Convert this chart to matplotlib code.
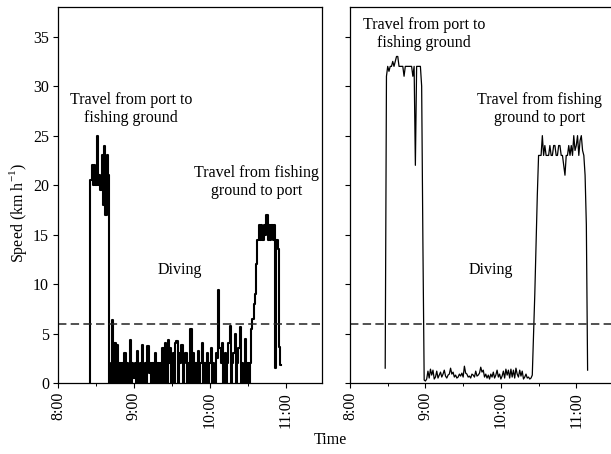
import numpy as np
import matplotlib.pyplot as plt

plt.rcParams['font.family'] = ['Liberation Serif', 'DejaVu Serif']
plt.rcParams['mathtext.fontset'] = 'custom'
plt.rcParams['mathtext.rm'] = 'Liberation Serif'

# speed logs, one sample per minute; times are minutes after 8:00
left_start = 25
left_speed = [
    0.0, 20.5,
    # outbound
    22, 20, 22, 20, 25, 20, 21, 19.5, 23, 18, 24, 17, 23, 21,
    # diving
    0, 2, 6.4, 0, 4, 0, 3.8, 0, 2, 0,
    2, 0, 3, 0, 2, 0, 4.3, 0, 2, 0.5,
    2, 0, 3.2, 0, 2, 0, 3.8, 0, 2, 0,
    3.7, 1, 2, 0, 2, 0, 3, 0, 2, 0,
    2, 0, 3.5, 0, 4, 0, 4.3, 2, 3.5, 0,
    3, 0, 4, 4.2, 0, 3, 2, 3.8, 0, 2,
    3, 0, 2, 0, 5.5, 0, 3, 0, 2, 0,
    3.2, 0, 2, 4, 0, 2, 0, 3, 0, 2,
    3.5, 0, 2, 0, 3, 2.5, 9.4, 3.5, 2, 4,
    0, 3, 0, 2, 4, 5.8, 0, 2, 3, 5,
    0, 2, 3.5, 5.7, 0, 2, 0, 4.4, 0, 2,
    0, 2,
    # return
    5.5, 6.5, 8, 9, 12, 14.5, 16, 14.5, 16, 14.5,
    16, 15, 17, 14.5, 16, 14.5, 16, 14.5, 16, 1.5,
    14.5, 13.5, 3.6, 1.8,
]

right_start = 28
right_speed = [
    1.5,
    # outbound
    31, 32, 31.5, 32, 32, 32.5, 32, 32.5, 33, 33,
    32, 32, 32, 32, 31, 32, 32, 32, 32, 32,
    32, 31, 32, 22, 32, 32, 32, 32, 30, 14,
    # diving
    0.3, 0.2, 0.4, 1.2, 0.5, 1.4, 0.8, 1.3, 0.4, 0.6,
    1.2, 0.5, 0.8, 1.1, 0.6, 0.9, 1.3, 0.7, 0.5, 0.8,
    0.9, 1.5, 0.9, 1.1, 0.6, 0.8, 0.5, 0.6, 0.9, 0.7,
    1.0, 0.6, 1.7, 1.0, 0.9, 0.6, 0.7, 0.5, 0.9, 0.8,
    0.6, 1.2, 0.7, 0.8, 1.0, 1.6, 1.1, 1.3, 0.6, 0.9,
    0.5, 0.8, 0.4, 0.9, 0.6, 1.1, 0.5, 0.8, 1.3, 0.6,
    0.9, 0.4, 0.7, 1.2, 0.5, 1.4, 0.8, 1.3, 0.5, 1.4,
    0.6, 1.3, 0.5, 1.5, 0.9, 0.6, 1.3, 0.7, 1.2, 0.4,
    0.6, 0.9, 0.5, 0.6, 0.4, 0.5, 0.8,
    # return
    5, 9, 14, 19, 23, 23, 23, 25, 23, 24,
    23, 23, 23, 24, 23, 23, 24, 24, 23, 23,
    24, 24, 23, 23, 22, 21, 23, 23, 24, 23,
    24, 23, 25, 23.5, 24, 25, 23, 24.5, 25, 23.5,
    23, 21, 16, 1.3,
]

threshold = 6
hour_ticks = [0, 60, 120, 180]
hour_labels = ['8:00', '9:00', '10:00', '11:00']
half_ticks = [30, 90, 150]

# left logger records coarse speed steps, right one is smoothed
panels = [
    dict(start=left_start, speed=left_speed, xmax=208.5, lw=1.5, ds='steps-mid',
         out_xy=(57.6, 27.7), back_xy=(157, 20.3), dive_xy=(96.3, 11.4)),
    dict(start=right_start, speed=right_speed, xmax=210, lw=0.9, ds='default',
         out_xy=(58.8, 35.3), back_xy=(151, 27.7), dive_xy=(112, 11.4)),
]

W, H = 611, 454
fig = plt.figure(figsize=(W / 100, H / 100), dpi=100)
ax_left = fig.add_axes([58 / W, 71 / H, 264 / W, 376 / H])
ax_right = fig.add_axes([350 / W, 71 / H, 264 / W, 376 / H])

for ax, p in zip([ax_left, ax_right], panels):
    t = p['start'] + np.arange(len(p['speed']))
    ax.plot(t, p['speed'], color='black', lw=p['lw'], drawstyle=p['ds'])
    ax.axhline(threshold, color='#222222', lw=1.1, ls=(0, (5.5, 2.8)))
    ax.set_xlim(0, p['xmax'])
    ax.set_ylim(0, 38)
    ax.set_xticks(hour_ticks)
    ax.set_xticklabels(hour_labels, rotation=90, fontsize=11.5)
    ax.set_xticks(half_ticks, minor=True)
    ax.set_yticks(range(0, 40, 5))
    ax.tick_params(axis='both', which='major', direction='out', length=3.5, width=0.8, pad=3)
    ax.tick_params(axis='x', which='minor', direction='out', length=2.5, width=0.7)
    ax.tick_params(axis='y', labelsize=11.5)
    for s in ax.spines.values():
        s.set_linewidth(0.9)
    ax.text(*p['out_xy'], 'Travel from port to\nfishing ground', ha='center', va='center',
            fontsize=11.5, linespacing=1.15)
    ax.text(*p['back_xy'], 'Travel from fishing\nground to port', ha='center', va='center',
            fontsize=11.5, linespacing=1.15)
    ax.text(*p['dive_xy'], 'Diving', ha='center', va='center', fontsize=11.5)

ax_right.tick_params(axis='y', labelleft=False)
ax_right.spines['right'].set_visible(False)

fig.text(18 / W, 1 - 213 / H, 'Speed (km h$^{\\mathregular{-1}}$)', rotation=90,
         ha='center', va='center', fontsize=11.5)
fig.text(330 / W, 1 - 440 / H, 'Time', ha='center', va='center', fontsize=11.5)

fig.savefig('out.png', dpi=100)
